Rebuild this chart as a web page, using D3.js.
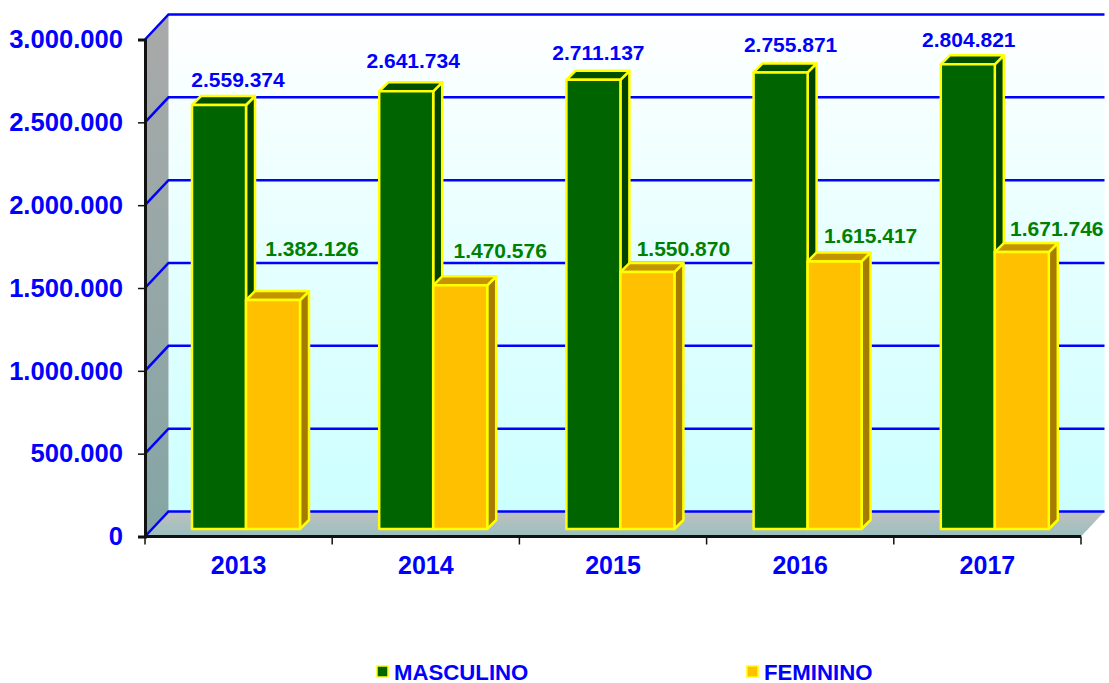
<!DOCTYPE html>
<html>
<head>
<meta charset="utf-8">
<script src="https://cdn.jsdelivr.net/npm/d3@7"></script>
<style>
    html, body { margin: 0; background: #fff; }
    text { font-family: "Liberation Sans", Arial, sans-serif; font-weight: bold; }
    .yAxis text { fill: #0000ff; font-size: 25.6px; }
    .xAxis text { fill: #0000ff; font-size: 25px; }
    .yAxis path, .xAxis path, .yAxis line, .xAxis line { stroke: #111; }
    .yAxis path, .xAxis path { stroke-width: 3; }
    .grid { stroke: #0000ff; stroke-width: 2.5; fill: none; }
</style>
</head>
<body>
<div id="graph"></div>
<script>
const YEARS = ['2013', '2014', '2015', '2016', '2017']
const SERIES = ['MASCULINO', 'FEMININO']
const MASCULINO = [2559374, 2641734, 2711137, 2755871, 2804821]
const FEMININO = [1382126, 1470576, 1550870, 1615417, 1671746]
const Y_TICKS = [0, 500000, 1000000, 1500000, 2000000, 2500000, 3000000]

// the labels sit by hand in the original, so each one has its own nudge
const MASC_NUDGE = [[19, -18], [7, -23], [5, -20], [10, -20], [1, -17]]
const FEM_NUDGE = [[39, -44], [40, -27], [36, -16], [36, -18], [35, -16]]

const WIDTH = 1109
const HEIGHT = 683
const LEFT = 145
const RIGHT = 1081
const BASE = 536.5
const TOP = 39.5
const DEPTH_X = 23.5
const DEPTH_Y = 25
const BAR_DX = 9
const BAR_DY = 9
const BAR_LIFT = 7.5

const COLORS = {
    MASCULINO: { front: '#006400', top: '#004f00', side: '#004300' },
    FEMININO: { front: '#ffc000', top: '#c49400', side: '#a67c00' }
}

const main = _ => {
    const svg = d3.select('#graph')
        .append('svg')
        .attr('width', WIDTH)
        .attr('height', HEIGHT)
        .style('display', 'block')

    const x = d3.scaleBand().domain(YEARS).range([LEFT, RIGHT])
    const y = d3.scaleLinear().domain([0, 3000000]).range([BASE, TOP])
    const inner = d3.scaleBand().domain(SERIES).range([47, 155])

    const defs = svg.append('defs')
    const gradient = (id, stops) => {
        const g = defs.append('linearGradient')
            .attr('id', id)
            .attr('x1', 0).attr('y1', 0).attr('x2', 0).attr('y2', 1)
        stops.forEach(([offset, color]) =>
            g.append('stop').attr('offset', offset).attr('stop-color', color))
    }
    gradient('wallBack', [[0, '#ffffff'], [1, '#ccffff']])
    gradient('wallLeft', [[0, '#a9a9a9'], [1, '#84a5a5']])
    gradient('floor', [[0, '#c0c0c0'], [1, '#99bfbf']])

    const polygon = points => points.map(p => p.join(',')).join(' ')

    // walls and floor
    svg.append('rect')
        .attr('x', LEFT + DEPTH_X)
        .attr('y', y(3000000) - DEPTH_Y)
        .attr('width', RIGHT - LEFT)
        .attr('height', BASE - TOP)
        .attr('fill', 'url(#wallBack)')

    svg.append('polygon')
        .attr('points', polygon([
            [LEFT, TOP], [LEFT + DEPTH_X, TOP - DEPTH_Y],
            [LEFT + DEPTH_X, BASE - DEPTH_Y], [LEFT, BASE]
        ]))
        .attr('fill', 'url(#wallLeft)')

    svg.append('polygon')
        .attr('points', polygon([
            [LEFT, BASE], [LEFT + DEPTH_X, BASE - DEPTH_Y],
            [RIGHT + DEPTH_X, BASE - DEPTH_Y], [RIGHT, BASE]
        ]))
        .attr('fill', 'url(#floor)')

    // gridlines
    svg.selectAll('.grid')
        .data(Y_TICKS)
        .enter()
        .append('polyline')
        .attr('class', 'grid')
        .attr('points', d => polygon([
            [LEFT, y(d)], [LEFT + DEPTH_X, y(d) - DEPTH_Y], [RIGHT + DEPTH_X, y(d) - DEPTH_Y]
        ]))

    // bars
    const rows = YEARS.map((year, i) => [
        { year, series: 'MASCULINO', value: MASCULINO[i], nudge: MASC_NUDGE[i], label: '#0000ff' },
        { year, series: 'FEMININO', value: FEMININO[i], nudge: FEM_NUDGE[i], label: '#008000' }
    ])

    const barLeft = d => x(d.year) + inner(d.series)
    const barTop = d => y(d.value) - BAR_LIFT
    const barBottom = BASE - BAR_LIFT
    const barWidth = inner.bandwidth()

    const bars = svg.selectAll('.bar')
        .data(rows.flat())
        .enter()
        .append('g')
        .attr('class', 'bar')
        .attr('stroke', '#ffff00')
        .attr('stroke-width', 2.5)
        .attr('stroke-linejoin', 'round')

    bars.append('polygon')
        .attr('fill', d => COLORS[d.series].side)
        .attr('points', d => {
            const r = barLeft(d) + barWidth
            return polygon([
                [r, barTop(d)], [r + BAR_DX, barTop(d) - BAR_DY],
                [r + BAR_DX, barBottom - BAR_DY], [r, barBottom]
            ])
        })

    bars.append('polygon')
        .attr('fill', d => COLORS[d.series].top)
        .attr('points', d => {
            const l = barLeft(d)
            return polygon([
                [l, barTop(d)], [l + BAR_DX, barTop(d) - BAR_DY],
                [l + barWidth + BAR_DX, barTop(d) - BAR_DY], [l + barWidth, barTop(d)]
            ])
        })

    bars.append('rect')
        .attr('x', barLeft)
        .attr('y', barTop)
        .attr('width', barWidth)
        .attr('height', d => barBottom - barTop(d))
        .attr('fill', d => COLORS[d.series].front)

    // value labels
    svg.selectAll('.value')
        .data(rows.flat())
        .enter()
        .append('text')
        .attr('class', 'value')
        .attr('text-anchor', 'middle')
        .attr('font-size', 21)
        .attr('fill', d => d.label)
        .attr('x', d => barLeft(d) + barWidth / 2 + d.nudge[0])
        .attr('y', d => barTop(d) + d.nudge[1])
        .text(d => d3.format(',')(d.value).replace(/,/g, '.'))

    // axes
    const yAxis = d3.axisLeft(y)
        .tickValues(Y_TICKS)
        .tickSize(7)
        .tickPadding(15)
        .tickFormat(d => d3.format(',')(d).replace(/,/g, '.'))

    svg.append('g')
        .attr('class', 'yAxis')
        .attr('transform', `translate(${LEFT}, 0)`)
        .call(yAxis)
        .call(g => g.selectAll('.tick line').attr('stroke-width', 1.5))

    const xAxis = d3.axisBottom(x)
        .tickSize(0)
        .tickPadding(20)

    svg.append('g')
        .attr('class', 'xAxis')
        .attr('transform', `translate(0, ${BASE})`)
        .call(xAxis)
        .call(g => g.select('.domain').attr('d', `M${LEFT},0H${RIGHT}`))
        .call(g => g.selectAll('.divider')
            .data(YEARS.map(d => x(d)).concat(RIGHT))
            .enter()
            .append('line')
            .attr('class', 'divider')
            .attr('x1', d => d)
            .attr('x2', d => d)
            .attr('y1', 0)
            .attr('y2', 8)
            .attr('stroke-width', 1.5))

    // legend
    const legendX = d3.scaleOrdinal().domain(SERIES).range([377, 747])

    const legend = svg.selectAll('.legend')
        .data(SERIES)
        .enter()
        .append('g')
        .attr('class', 'legend')
        .attr('transform', d => `translate(${legendX(d)}, 672)`)

    legend.append('rect')
        .attr('x', 0)
        .attr('y', -6)
        .attr('width', 11)
        .attr('height', 11)
        .attr('fill', d => COLORS[d].front)
        .attr('stroke', '#ffff00')
        .attr('stroke-width', 1.5)

    legend.append('text')
        .attr('x', 17)
        .attr('y', 7.5)
        .attr('font-size', 22.2)
        .attr('fill', '#0000ff')
        .text(d => d)
}

document.addEventListener('DOMContentLoaded', main)
</script>
</body>
</html>
